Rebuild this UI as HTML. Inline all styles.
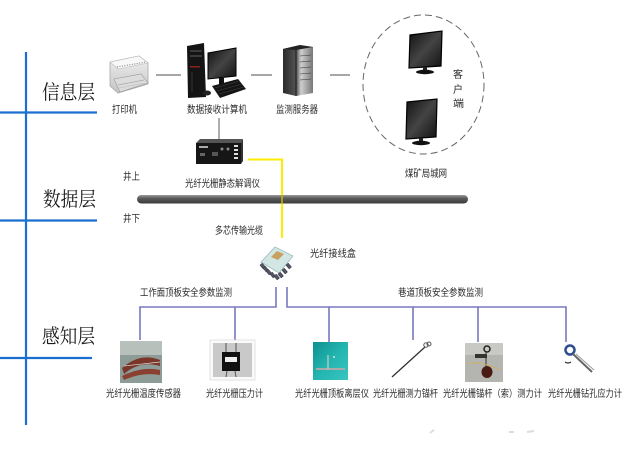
<!DOCTYPE html>
<html><head><meta charset="utf-8"><style>
html,body{margin:0;padding:0;background:#fff;}
svg{display:block;}
text{font-family:"Liberation Sans","Noto Sans CJK SC",sans-serif;fill:#2a2a2a;font-size:10px;}
.big{font-family:"Liberation Serif","Noto Serif CJK SC",serif;font-size:20px;fill:#1a1a1a;}
</style></head><body>
<svg width="638" height="456" viewBox="0 0 638 456" xmlns="http://www.w3.org/2000/svg">
<defs>
<linearGradient id="bar" x1="0" y1="0" x2="0" y2="1"><stop offset="0" stop-color="#9a9a9a"/><stop offset="0.4" stop-color="#5a5a5a"/><stop offset="1" stop-color="#3a3a3a"/></linearGradient>
<linearGradient id="scr" x1="0" y1="0" x2="1" y2="1"><stop offset="0" stop-color="#111"/><stop offset="0.5" stop-color="#444"/><stop offset="1" stop-color="#111"/></linearGradient>
<linearGradient id="srv" x1="0" y1="0" x2="1" y2="0"><stop offset="0" stop-color="#2a2a2a"/><stop offset="0.45" stop-color="#555"/><stop offset="0.6" stop-color="#cfcfcf"/><stop offset="1" stop-color="#777"/></linearGradient>
<linearGradient id="teal" x1="0" y1="0" x2="1" y2="1"><stop offset="0" stop-color="#0f8f8f"/><stop offset="0.5" stop-color="#22b5b0"/><stop offset="1" stop-color="#3ac4c0"/></linearGradient>
<linearGradient id="prn" x1="0" y1="0" x2="0" y2="1"><stop offset="0" stop-color="#f0f0f0"/><stop offset="1" stop-color="#c4c4c4"/></linearGradient>
</defs>

<!-- blue layer lines -->
<g stroke="#1a6fd0" stroke-width="2.2" fill="none">
<line x1="26" y1="52" x2="26" y2="425"/>
<line x1="0" y1="112.5" x2="97" y2="112.5"/>
<line x1="0" y1="220.5" x2="97" y2="220.5"/>
<line x1="0" y1="358" x2="92" y2="358"/>
</g>
<text class="big" x="42" y="99" textLength="53" lengthAdjust="spacingAndGlyphs">信息层</text>
<text class="big" x="43" y="206" textLength="53" lengthAdjust="spacingAndGlyphs">数据层</text>
<text class="big" x="42" y="343" textLength="53" lengthAdjust="spacingAndGlyphs">感知层</text>

<!-- gray connectors top -->
<g stroke="#8a8a8a" stroke-width="1.4">
<line x1="156" y1="75" x2="181" y2="75"/>
<line x1="251" y1="75" x2="272" y2="75"/>
<line x1="330" y1="75" x2="350" y2="75"/>
<line x1="219" y1="118" x2="219" y2="139"/>
</g>

<!-- printer -->
<g>
<polygon points="110,62 139,56 148,63 148,84 118,93 110,86" fill="url(#prn)" stroke="#a8a8a8" stroke-width="0.8"/>
<polygon points="110,62 139,56 148,63 118,69" fill="#f8f8f8" stroke="#bbb" stroke-width="0.6"/>
<line x1="117" y1="67" x2="146" y2="62" stroke="#888" stroke-width="1.2" stroke-dasharray="1 1.5"/>
<polygon points="114,79 141,74 148,83 120,92" fill="#dcdcdc" stroke="#999" stroke-width="0.6"/>
<line x1="118" y1="85" x2="144" y2="80" stroke="#aaa" stroke-width="0.8"/>
<line x1="119" y1="88" x2="145" y2="83" stroke="#bbb" stroke-width="0.6"/>
</g>

<!-- computer -->
<g>
<polygon points="208,53 236,48 236,76 208,79" fill="url(#scr)" stroke="#000" stroke-width="1"/>
<rect x="219" y="78" width="5" height="6" fill="#111"/>
<polygon points="212,86 238,79 246,89 220,98" fill="#151515"/>
<g stroke="#444" stroke-width="0.5"><line x1="215" y1="88" x2="240" y2="81"/><line x1="217" y1="91" x2="242" y2="84"/><line x1="219" y1="94" x2="244" y2="87"/></g>
<polygon points="187,46 204,43 206,97 188,98" fill="#141414"/>
<rect x="190" y="50" width="12" height="2" fill="#3a3a3a"/>
<rect x="190" y="55" width="12" height="2" fill="#3a3a3a"/>
<rect x="190" y="66" width="10" height="1.5" fill="#8a2020"/>
<line x1="192" y1="72" x2="192" y2="92" stroke="#333" stroke-width="1"/>
<ellipse cx="207" cy="93" rx="4" ry="2.5" fill="#222"/>
</g>

<!-- server -->
<g>
<polygon points="283,49 300,45 313,47 313,93 296,96 283,93" fill="url(#srv)"/>
<polygon points="283,49 300,45 313,47 296,50" fill="#222"/>
<g stroke="#333" stroke-width="0.6"><line x1="300" y1="56" x2="311" y2="55"/><line x1="300" y1="62" x2="311" y2="61"/><line x1="300" y1="68" x2="311" y2="67"/><line x1="300" y1="74" x2="311" y2="73"/><line x1="300" y1="80" x2="311" y2="79"/></g>
<line x1="296" y1="50" x2="296" y2="96" stroke="#1a1a1a" stroke-width="1"/>
</g>

<!-- top labels -->
<text x="112" y="113" textLength="25" lengthAdjust="spacingAndGlyphs">打印机</text>
<text x="187" y="113" textLength="60" lengthAdjust="spacingAndGlyphs">数据接收计算机</text>
<text x="276" y="113" textLength="42" lengthAdjust="spacingAndGlyphs">监测服务器</text>

<!-- client ellipse -->
<ellipse cx="423.5" cy="84.5" rx="60.5" ry="69.5" fill="none" stroke="#666" stroke-width="1" stroke-dasharray="7 4"/>
<g>
<polygon points="410,35 442,31 441,66 409,68" fill="url(#scr)" stroke="#000" stroke-width="1.2"/>
<rect x="423" y="67" width="4" height="4" fill="#222"/>
<ellipse cx="425" cy="72" rx="9" ry="2.2" fill="#111"/>
<polygon points="407,102 437,99 436,137 406,139" fill="url(#scr)" stroke="#000" stroke-width="1.2"/>
<rect x="419" y="138" width="4" height="4" fill="#222"/>
<ellipse cx="421" cy="143" rx="9" ry="2.2" fill="#111"/>
</g>
<text x="453" y="78" font-size="11">客</text>
<text x="453" y="93" font-size="11">户</text>
<text x="453" y="107" font-size="11" textLength="11" lengthAdjust="spacingAndGlyphs">端</text>
<text x="405" y="177" textLength="42" lengthAdjust="spacingAndGlyphs">煤矿局城网</text>

<!-- demodulator -->
<g>
<polygon points="196,143 200,139 243,139 241,143" fill="#555"/>
<rect x="196" y="143" width="45" height="21" fill="#161616"/>
<polygon points="241,143 243,139 243,161 241,164" fill="#333"/>
<rect x="199" y="146" width="9" height="2" fill="#aaa"/>
<rect x="200" y="153" width="5" height="3" fill="#666"/>
<rect x="212" y="152" width="6" height="4" fill="#555"/>
<circle cx="222" cy="149" r="1.5" fill="#888"/>
<circle cx="228" cy="149" r="1.5" fill="#888"/>
<g fill="#ddd"><rect x="234" y="145" width="4" height="2"/><rect x="234" y="149" width="4" height="2"/><rect x="234" y="153" width="4" height="2"/><rect x="234" y="157" width="4" height="2"/></g>
</g>
<text x="185" y="187" textLength="75" lengthAdjust="spacingAndGlyphs">光纤光栅静态解调仪</text>

<!-- yellow fiber -->
<polyline points="248,159.5 282,159.5 282,238" fill="none" stroke="#ffec00" stroke-width="2"/>

<!-- gray bus bar -->
<rect x="137" y="195" width="331" height="8.5" rx="4.2" fill="url(#bar)"/>
<line x1="282" y1="195" x2="282" y2="203.5" stroke="#c8b800" stroke-width="1.5"/>

<text x="123" y="180" textLength="17" lengthAdjust="spacingAndGlyphs">井上</text>
<text x="123" y="222" textLength="17" lengthAdjust="spacingAndGlyphs">井下</text>
<text x="215" y="234" textLength="48" lengthAdjust="spacingAndGlyphs">多芯传输光缆</text>

<!-- junction box -->
<g>
<polygon points="261,262 275,247 293,256 279,273" fill="#d2e6e4" stroke="#9bb" stroke-width="0.8"/>
<polygon points="271,257 277,251 284,254 278,260" fill="#c8a060"/>
<g fill="#556" stroke="#334" stroke-width="0.5">
<rect x="261" y="264" width="3" height="5" transform="rotate(-40 262 266)"/>
<rect x="264" y="267" width="3" height="5" transform="rotate(-40 265 269)"/>
<rect x="267" y="270" width="3" height="5" transform="rotate(-40 268 272)"/>
<rect x="271" y="273" width="3" height="5" transform="rotate(-40 272 275)"/>
<rect x="275" y="275" width="3" height="5" transform="rotate(-40 276 277)"/>
<rect x="279" y="273" width="3" height="5" transform="rotate(-40 280 275)"/>
<rect x="283" y="269" width="3" height="5" transform="rotate(-40 284 271)"/>
<rect x="287" y="264" width="3" height="5" transform="rotate(-40 288 266)"/>
</g>
</g>
<text x="310" y="257" textLength="46" lengthAdjust="spacingAndGlyphs">光纤接线盒</text>

<!-- purple tree -->
<g stroke="#7878c0" stroke-width="1.6" fill="none">
<polyline points="276,287 276,307 140,307 140,340"/>
<line x1="235" y1="307" x2="235" y2="342"/>
<polyline points="287,287 287,307 566,307 566,342"/>
<line x1="329" y1="307" x2="329" y2="342"/>
<line x1="413" y1="307" x2="413" y2="340"/>
<line x1="478" y1="307" x2="478" y2="342"/>
</g>
<text x="140" y="296" textLength="92" lengthAdjust="spacingAndGlyphs">工作面顶板安全参数监测</text>
<text x="398" y="296" textLength="85" lengthAdjust="spacingAndGlyphs">巷道顶板安全参数监测</text>

<!-- sensor 1: temp -->
<g>
<rect x="120" y="341" width="42" height="42" fill="#8e9c98"/>
<rect x="120" y="341" width="42" height="14" fill="#b8c0bc"/>
<path d="M122,368 Q140,352 160,360 L160,366 Q140,360 124,374 Z" fill="#7a3628"/>
<path d="M122,376 Q142,366 160,370 L160,375 Q142,372 124,380 Z" fill="#8a4030"/>
<line x1="124" y1="366" x2="160" y2="362" stroke="#ddd" stroke-width="0.7"/>
</g>
<!-- sensor 2: pressure -->
<g>
<rect x="210" y="340" width="45" height="40" fill="#fafafa" stroke="#ddd" stroke-width="0.8"/>
<rect x="213" y="343" width="39" height="34" fill="#c9c9c9"/>
<rect x="222" y="352" width="18" height="19" fill="#111"/>
<rect x="225" y="357" width="12" height="5" fill="#eee"/>
<g stroke="#555" stroke-width="1"><line x1="226" y1="343" x2="226" y2="352"/><line x1="236" y1="343" x2="236" y2="352"/><line x1="227" y1="371" x2="226" y2="377"/><line x1="235" y1="371" x2="236" y2="377"/></g>
</g>
<!-- sensor 3: teal -->
<g>
<rect x="313" y="342" width="35" height="38" fill="url(#teal)"/>
<line x1="316" y1="369" x2="345" y2="369" stroke="#aaa" stroke-width="2"/>
<line x1="328" y1="355" x2="328" y2="369" stroke="#ccc" stroke-width="1.2"/>
<circle cx="334" cy="357" r="1" fill="#ddd"/>
</g>
<!-- sensor 4: rod -->
<g>
<line x1="392" y1="377" x2="425" y2="347" stroke="#333" stroke-width="1.3"/>
<circle cx="426" cy="345" r="2.2" fill="none" stroke="#555" stroke-width="1"/>
<circle cx="429" cy="344" r="2" fill="none" stroke="#555" stroke-width="1"/>
</g>
<!-- sensor 5: anchor gauge -->
<g>
<rect x="465" y="343" width="38" height="39" fill="#b4b4b0"/>
<rect x="465" y="343" width="38" height="12" fill="#c8c8c4"/>
<circle cx="487" cy="349" r="3" fill="none" stroke="#222" stroke-width="1.5"/>
<rect x="475" y="354" width="12" height="4" fill="#333"/>
<line x1="486" y1="352" x2="486" y2="366" stroke="#333" stroke-width="1"/>
<ellipse cx="487" cy="372" rx="5.5" ry="6" fill="#4a1a14"/>
<path d="M467,364 Q480,360 500,370" stroke="#d8b040" stroke-width="0.6" fill="none"/>
</g>
<!-- sensor 6: borehole -->
<g>
<circle cx="570" cy="350" r="4.5" fill="none" stroke="#2f4f8f" stroke-width="2.5"/>
<line x1="573" y1="354" x2="592" y2="372" stroke="#666" stroke-width="2"/>
<line x1="576" y1="354" x2="594" y2="370" stroke="#999" stroke-width="1"/>
<path d="M565,362 q3,2 6,0" stroke="#333" stroke-width="1.2" fill="none"/>
</g>

<!-- bottom labels -->
<text x="106" y="397" textLength="75" lengthAdjust="spacingAndGlyphs">光纤光栅温度传感器</text>
<text x="206" y="397" textLength="57" lengthAdjust="spacingAndGlyphs">光纤光栅压力计</text>
<text x="295" y="397" textLength="74" lengthAdjust="spacingAndGlyphs">光纤光栅顶板离层仪</text>
<text x="373" y="397" textLength="65" lengthAdjust="spacingAndGlyphs">光纤光栅测力锚杆</text>
<text x="443" y="397" textLength="99" lengthAdjust="spacingAndGlyphs">光纤光栅锚杆（索）测力计</text>
<text x="548" y="397" textLength="74" lengthAdjust="spacingAndGlyphs">光纤光栅钻孔应力计</text>

<!-- faint marks -->
<g stroke="#ddd" stroke-width="2"><line x1="430" y1="433" x2="434" y2="430"/><line x1="509" y1="432" x2="514" y2="432"/><line x1="527" y1="432" x2="534" y2="431"/></g>
</svg>
</body></html>
